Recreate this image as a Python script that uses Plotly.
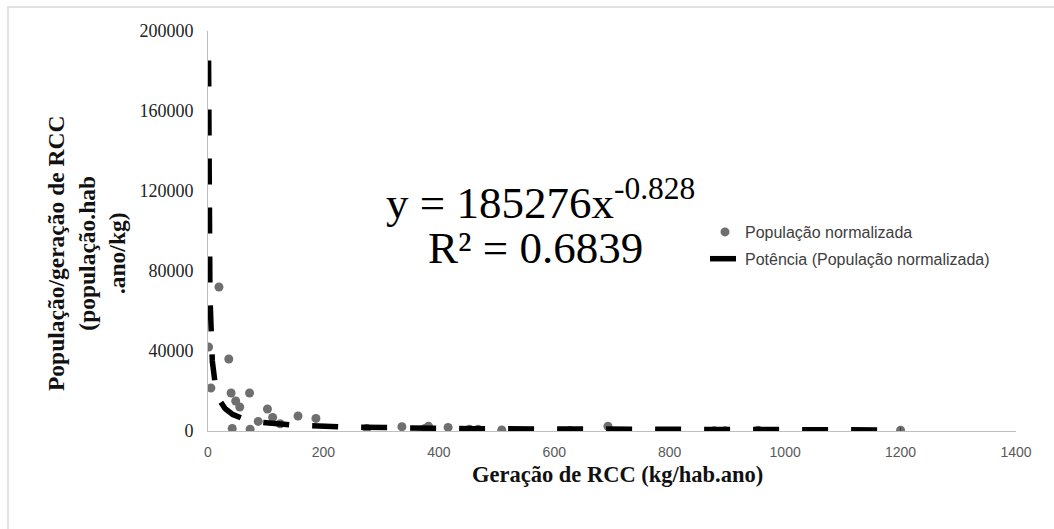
import numpy as np
import plotly.graph_objects as go

# ---- data ----
geracao = [1, 5, 19, 36, 40, 42, 48, 55, 72, 73, 87, 103, 112, 125, 156, 187,
           275, 336, 376, 382, 416, 453, 468, 509, 627, 693, 877, 896, 953, 1200]
pop_norm = [42000, 21500, 72000, 36000, 19000, 1300, 15000, 12000, 19000, 900,
            4800, 11000, 6800, 3600, 7500, 6300, 1300, 2100, 1300, 2400,
            1800, 850, 850, 500, 200, 2400, 100, 100, 400, 400]

# power trendline shown on chart: y = a * x^b
coef_a = 185276
coef_b = -0.828
r2_text = "0.6839"

x_ticks = [0, 200, 400, 600, 800, 1000, 1200, 1400]
y_ticks = [0, 40000, 80000, 120000, 160000, 200000]

# ---- figure geometry ----
W, H = 1054, 529
L, R, T, B = 208, 38, 31, 98
PW, PH = W - L - R, H - T - B


def px(x):
    return (x - L) / PW


def py(y):
    return (H - B - y) / PH


trend_x = np.geomspace(min(geracao), max(geracao), 600)
trend_y = coef_a * trend_x ** coef_b

fig = go.Figure()
fig.add_trace(go.Scatter(
    x=geracao, y=pop_norm, mode="markers",
    name="População normalizada", legendgroup="a",
    marker=dict(color="#6f6f6f", size=9),
))
fig.add_trace(go.Scatter(
    x=trend_x, y=trend_y, mode="lines",
    name="Potência (População normalizada)", legendgroup="b",
    line=dict(color="black", width=5.5, dash="26px,23px"),
))

serif = "Liberation Serif, Times New Roman, serif"
sans = "Liberation Sans, Arial, sans-serif"

fig.update_layout(
    width=W, height=H,
    margin=dict(l=L, r=R, t=T, b=B),
    paper_bgcolor="white", plot_bgcolor="white",
    showlegend=True,
    legend=dict(
        x=px(705), y=py(215), xanchor="left", yanchor="top",
        font=dict(family=sans, size=16, color="#404040"),
        bgcolor="rgba(0,0,0,0)", tracegroupgap=3, traceorder="grouped",
    ),
    xaxis=dict(
        range=[0, 1400], tickvals=x_ticks, ticktext=[str(v) for v in x_ticks],
        showline=True, linecolor="#bfbfbf", linewidth=1,
        showgrid=False, zeroline=False, ticks="",
        ticklabelstandoff=8,
        tickfont=dict(family=sans, size=14, color="#595959"),
    ),
    yaxis=dict(
        range=[0, 200000], tickvals=y_ticks, ticktext=[str(v) for v in y_ticks],
        showline=True, linecolor="#bfbfbf", linewidth=1,
        showgrid=False, zeroline=False, ticks="",
        ticklabelstandoff=10,
        tickfont=dict(family=serif, size=18, color="#222222"),
    ),
    shapes=[dict(
        type="rect", xref="paper", yref="paper",
        x0=px(8), y0=py(560), x1=px(1070), y1=py(7),
        line=dict(color="#d9d9d9", width=1.5), fillcolor="rgba(0,0,0,0)", layer="below",
    )],
    annotations=[
        dict(
            text="<b>Geração de RCC (kg/hab.ano)</b>",
            xref="paper", yref="paper", x=px(617), y=py(474),
            xanchor="center", yanchor="middle", showarrow=False,
            font=dict(family=serif, size=22.5, color="#111111"),
        ),
        dict(
            text="<b>População/geração de RCC<br>(população.hab<br>.ano/kg)</b>",
            xref="paper", yref="paper", x=px(86), y=py(254),
            xanchor="center", yanchor="middle", showarrow=False, textangle=-90,
            font=dict(family=serif, size=23.5, color="#111111"),
        ),
        dict(
            text=f"y = {coef_a}x<sup>{coef_b}</sup>",
            xref="paper", yref="paper", x=px(540), y=py(199),
            xanchor="center", yanchor="middle", showarrow=False,
            font=dict(family=serif, size=45, color="black"),
        ),
        dict(
            text=f"R² = {r2_text}",
            xref="paper", yref="paper", x=px(535), y=py(248),
            xanchor="center", yanchor="middle", showarrow=False,
            font=dict(family=serif, size=45, color="black"),
        ),
    ],
)

fig.write_html("out.html")
